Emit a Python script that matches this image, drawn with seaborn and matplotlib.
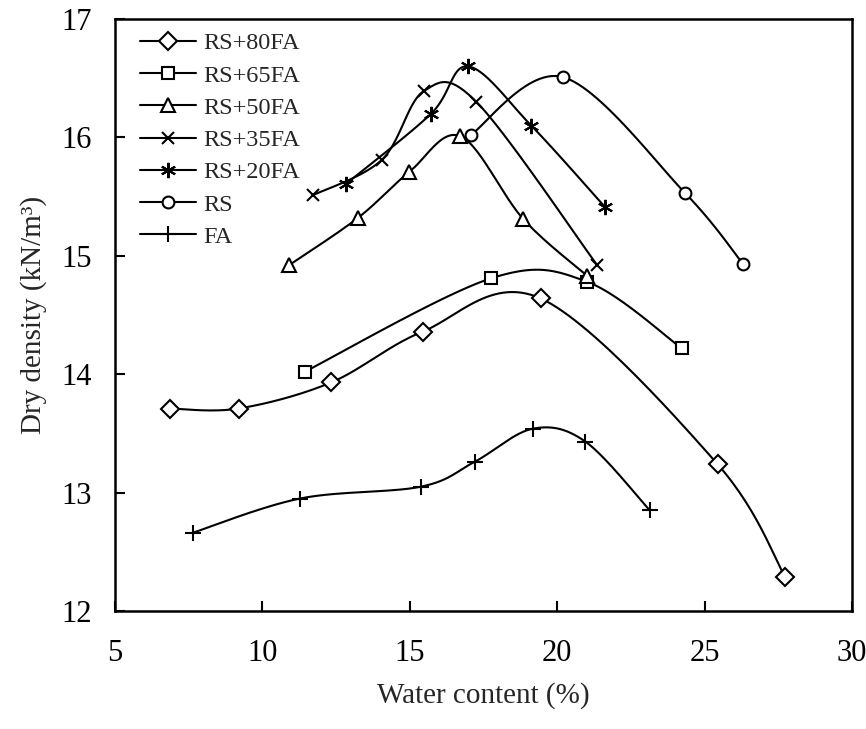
import numpy as np
import matplotlib
matplotlib.use('Agg')
import matplotlib.pyplot as plt
import seaborn as sns
from matplotlib.lines import Line2D

# 含水率 (%) / 干密度 (kN/m3) 읽은 값
w_80fa = [6.87, 9.19, 12.33, 15.44, 19.44, 25.44, 27.73]
d_80fa = [13.71, 13.71, 13.93, 14.36, 14.64, 13.24, 12.29]
w_65fa = [11.43, 17.76, 21.02, 24.22]
d_65fa = [14.02, 14.81, 14.78, 14.22]
w_50fa = [10.90, 13.24, 14.99, 16.72, 18.85, 21.02]
d_50fa = [14.92, 15.32, 15.71, 16.01, 15.31, 14.83]
w_35fa = [11.70, 14.05, 15.47, 17.26, 21.36]
d_35fa = [15.51, 15.81, 16.39, 16.30, 14.92]
w_20fa = [12.85, 15.72, 16.98, 19.12, 21.63]
d_20fa = [15.61, 16.20, 16.60, 16.10, 15.41]
w_rs = [17.06, 20.19, 24.34, 26.31]
d_rs = [16.02, 16.51, 15.53, 14.93]
w_fa = [7.63, 11.28, 15.38, 17.20, 19.18, 20.96, 23.14]
d_fa = [12.66, 12.95, 13.05, 13.26, 13.54, 13.43, 12.85]

labels = ['RS+80FA', 'RS+65FA', 'RS+50FA', 'RS+35FA', 'RS+20FA', 'RS', 'FA']
x_ticks = [5, 10, 15, 20, 25, 30]
y_ticks = [12, 13, 14, 15, 16, 17]


# 엑셀식 부드러운 선 (Catmull-Rom 베지어), 화면 비율 보정
def smooth_line(x, y, n=30, ky=4.0):
    p = np.column_stack([np.asarray(x, float), np.asarray(y, float) * ky])
    pe = np.vstack([p[0], p, p[-1]])
    t = np.linspace(0, 1, n)[:, None]
    segs = []
    for i in range(len(p) - 1):
        p0, p1, p2, p3 = pe[i], pe[i + 1], pe[i + 2], pe[i + 3]
        c1 = p1 + (p2 - p0) / 6
        c2 = p2 - (p3 - p1) / 6
        seg = (1 - t) ** 3 * p1 + 3 * (1 - t) ** 2 * t * c1 + 3 * (1 - t) * t ** 2 * c2 + t ** 3 * p2
        segs.append(seg if i == 0 else seg[1:])
    s = np.vstack(segs)
    return s[:, 0], s[:, 1] / ky


sns.set_style('ticks')
plt.rcParams['font.family'] = ['Liberation Serif', 'DejaVu Serif']

fig = plt.figure(figsize=(8.66, 7.29), dpi=100)
ax = fig.add_axes([0.1328, 0.1619, 0.851, 0.812])

series = [
    (w_80fa, d_80fa, 'D', 9),
    (w_65fa, d_65fa, 's', 8),
    (w_50fa, d_50fa, '^', 9.5),
    (w_35fa, d_35fa, 'x', 9),
    (w_20fa, d_20fa, (6, 2, 0), 11),
    (w_rs, d_rs, 'o', 8.5),
    (w_fa, d_fa, '+', 12),
]

handles = []
for (w, d, m, ms), lab in zip(series, labels):
    sx, sy = smooth_line(w, d)
    sns.lineplot(x=sx, y=sy, sort=False, estimator=None, color='black',
                 linewidth=1.5, ax=ax)
    ax.plot(w, d, linestyle='none', marker=m, markersize=ms,
            markerfacecolor='white', markeredgecolor='black',
            markeredgewidth=1.5, zorder=3)
    handles.append(Line2D([], [], color='black', linewidth=1.5, marker=m,
                          markersize=ms, markerfacecolor='white',
                          markeredgecolor='black', markeredgewidth=1.5))

ax.set_xlim(5, 30)
ax.set_ylim(12, 17)
ax.set_xticks(x_ticks)
ax.set_yticks(y_ticks)
ax.tick_params(direction='in', length=7, width=1.5, labelsize=22, colors='black')
ax.tick_params(axis='x', pad=20)
ax.tick_params(axis='y', pad=17)
for sp in ax.spines.values():
    sp.set_linewidth(1.8)
    sp.set_color('black')

ax.set_xlabel('Water content (%)', fontsize=21, labelpad=10)
ax.set_ylabel('Dry density (kN/m³)', fontsize=21, labelpad=10)

ax.legend(handles, labels, loc='upper left', frameon=False, fontsize=17.5,
          handlelength=2.3, labelspacing=0.42, handletextpad=0.3,
          bbox_to_anchor=(0.016, 1.0), borderaxespad=0.15)

fig.savefig('out.png', dpi=100)
